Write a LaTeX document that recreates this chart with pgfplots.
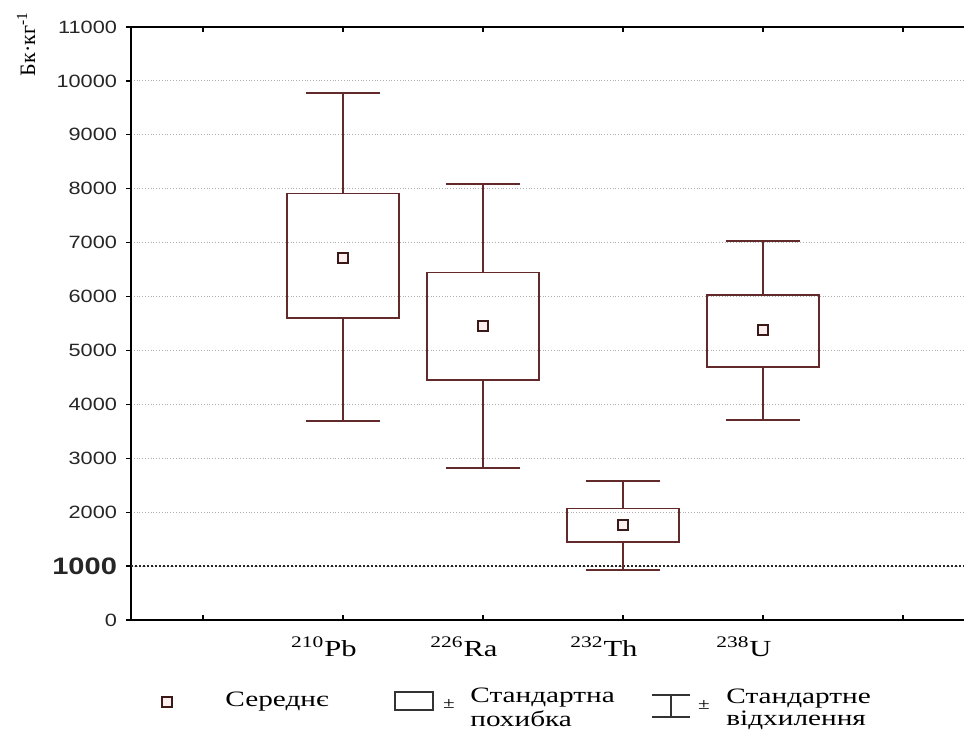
\documentclass[border=0pt]{standalone}
\usepackage{pgfplots}
\pgfplotsset{compat=1.18}
\usepackage{fontspec}
\setmainfont{Liberation Serif}[FakeStretch=1.33]
\newfontfamily\plainserif{Liberation Serif}
\newfontfamily\ticksans{Liberation Sans}[FakeStretch=1.22]

\definecolor{boxcol}{RGB}{98,42,42}
\definecolor{meandraw}{RGB}{60,25,25}
\definecolor{meanfill}{RGB}{250,238,238}
\definecolor{gridcol}{RGB}{175,175,175}

\begin{document}
\begin{tikzpicture}
\begin{axis}[
  at={(0,0)}, anchor=south west,
  scale only axis, width=416.5pt, height=296.5pt,
  xmin=-0.514, xmax=5.436, ymin=0, ymax=11000,
  axis x line*=box, axis y line*=left,
  axis line style={black, line width=0.6pt},
  xtick={0,1,2,3,4,5},
  xticklabels={,{\textsuperscript{210}Pb},{\textsuperscript{226}Ra},{\textsuperscript{232}Th},{\textsuperscript{238}U},},
  ytick={0,1000,2000,3000,4000,5000,6000,7000,8000,9000,10000,11000},
  yticklabels={0,{\fontsize{11.9}{12}\selectfont\bfseries 1000},2000,3000,4000,5000,6000,7000,8000,9000,10000,11000},
  scaled y ticks=false,
  ymajorgrids,
  major grid style={gridcol, densely dotted, line width=0.45pt},
  major tick length=2.5pt,
  tick style={black, line width=0.6pt},
  ytick style={xshift=-2.5pt},
  yticklabel style={font=\ticksans\fontsize{8.9}{10}\selectfont, text=black!85, xshift=-3.5pt},
  xticklabel style={font=\fontsize{11.5}{12}\selectfont, xshift=-9.5pt, yshift=-5pt},
  every axis y label/.style={at={(axis description cs:-0.126,0.971)}, anchor=center, rotate=90,
    font=\plainserif\fontsize{11}{12}\selectfont},
  ylabel={Бк·кг\textsuperscript{-1}},
  unbounded coords=jump,
  clip=false,
]
% threshold level
\addplot[black!85, line width=0.95pt, dash pattern=on 1.1pt off 0.9pt] coordinates {(-0.514,1000) (5.436,1000)};

% boxes: mean +- standard error
\addplot[boxcol, line width=0.75pt] coordinates {
  (1,5600) (1.4,5600) (1.4,7910) (0.6,7910) (0.6,5600) (1,5600) (1,nan)
  (2,4450) (2.4,4450) (2.4,6450) (1.6,6450) (1.6,4450) (2,4450) (2,nan)
  (3,1450) (3.4,1450) (3.4,2070) (2.6,2070) (2.6,1450) (3,1450) (3,nan)
  (4,4690) (4.4,4690) (4.4,6030) (3.6,6030) (3.6,4690) (4,4690)
};
% whiskers: mean +- standard deviation
\addplot[boxcol, line width=0.75pt] coordinates {
  (1,7910) (1,9780) (1,nan) (0.735,9780) (1.265,9780) (1,nan)
  (1,5600) (1,3690) (1,nan) (0.735,3690) (1.265,3690) (1,nan)
  (2,6450) (2,8090) (2,nan) (1.735,8090) (2.265,8090) (2,nan)
  (2,4450) (2,2820) (2,nan) (1.735,2820) (2.265,2820) (2,nan)
  (3,2070) (3,2580) (3,nan) (2.735,2580) (3.265,2580) (3,nan)
  (3,1450) (3,930)  (3,nan) (2.735,930)  (3.265,930)  (3,nan)
  (4,6030) (4,7030) (4,nan) (3.735,7030) (4.265,7030) (4,nan)
  (4,4690) (4,3710) (4,nan) (3.735,3710) (4.265,3710)
};
% means
\addplot[only marks, mark=square*, mark size=2.5pt,
  mark options={draw=meandraw, fill=meanfill, line width=0.85pt}]
  coordinates {(1,6720) (2,5450) (3,1760) (4,5380)};
\end{axis}

% legend, laid out in pixel-like units below the plot
\begin{scope}[x=0.5pt, y=-0.5pt, shift={(-65.5pt,310pt)}]
  \draw[meandraw, line width=0.8pt, fill=meanfill] (162,697) rectangle (172,707);
  \node[anchor=base west, inner sep=0pt, font=\fontsize{11}{12}\selectfont] at (225,706) {Середнє};

  \draw[black!80, line width=0.7pt] (395,692) rectangle (433,710);
  \node[anchor=base, inner sep=0pt, font=\fontsize{8}{9}\selectfont] at (449,708) {±};
  \node[anchor=base west, inner sep=0pt, font=\fontsize{11}{12}\selectfont] at (470,702) {Стандартна};
  \node[anchor=base west, inner sep=0pt, font=\fontsize{11}{12}\selectfont] at (470,726) {похибка};

  \draw[black!80, line width=0.7pt] (652,695) -- (690,695) (652,717) -- (690,717) (671,695) -- (671,717);
  \node[anchor=base, inner sep=0pt, font=\fontsize{8}{9}\selectfont] at (704,709) {±};
  \node[anchor=base west, inner sep=0pt, font=\fontsize{11}{12}\selectfont] at (726,703) {Стандартне};
  \node[anchor=base west, inner sep=0pt, font=\fontsize{11}{12}\selectfont] at (726,725) {відхилення};
\end{scope}

\pgfresetboundingbox
\path[use as bounding box] (-65.5pt,-55pt) rectangle (416.5pt,310pt);
\end{tikzpicture}
\end{document}
